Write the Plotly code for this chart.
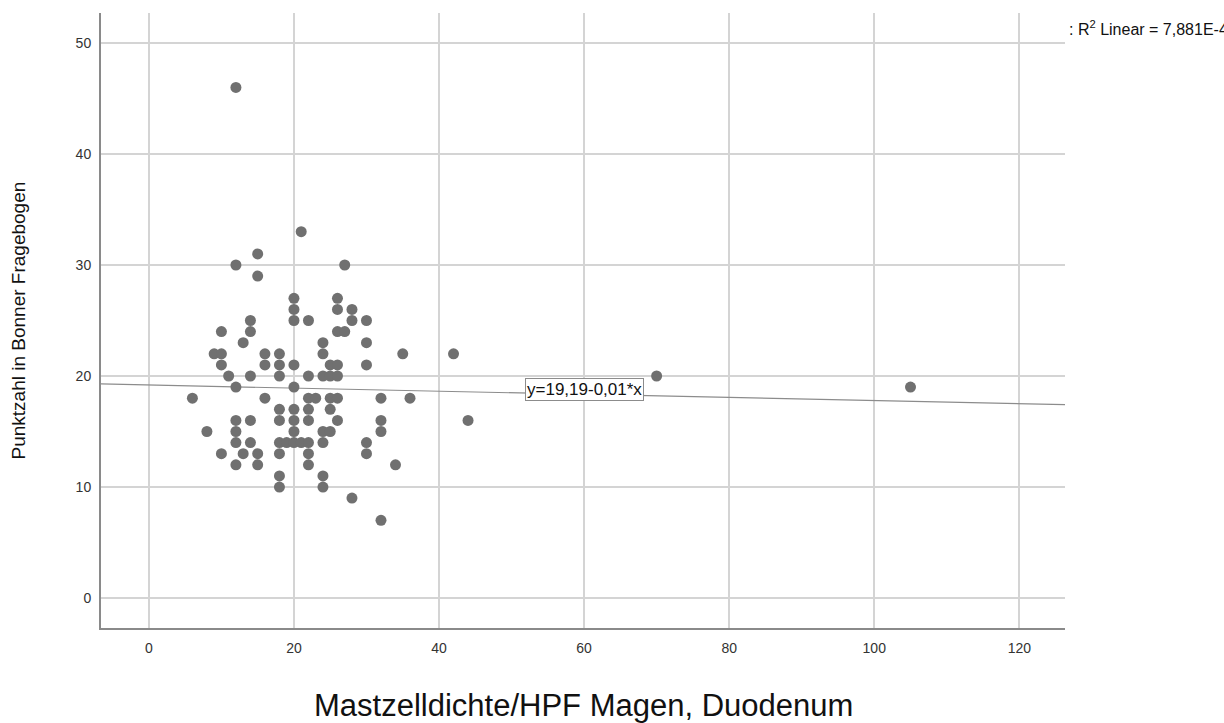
import plotly.graph_objects as go

# Data
mast_x = [12, 21, 15, 12, 27, 15,
          20, 26, 20, 26, 28, 20, 14, 22, 28, 30,
          14, 10, 26, 27, 13, 24, 30,
          9, 10, 16, 18, 24, 35, 42,
          10, 16, 18, 20, 25, 26, 30,
          11, 14, 18, 22, 24, 25, 26, 70,
          12, 20, 105,
          6, 16, 22, 23, 25, 26, 32, 36,
          18, 20, 22, 25,
          12, 14, 18, 20, 22, 26, 32, 44,
          8, 12, 20, 24, 25, 32,
          12, 14, 18, 19, 20, 21, 22, 24, 30,
          10, 13, 15, 18, 22, 30,
          12, 15, 22, 34,
          18, 24,
          18, 24,
          28, 32]
score_y = [46, 33, 31, 30, 30, 29,
           27, 27, 26, 26, 26, 25, 25, 25, 25, 25,
           24, 24, 24, 24, 23, 23, 23,
           22, 22, 22, 22, 22, 22, 22,
           21, 21, 21, 21, 21, 21, 21,
           20, 20, 20, 20, 20, 20, 20, 20,
           19, 19, 19,
           18, 18, 18, 18, 18, 18, 18, 18,
           17, 17, 17, 17,
           16, 16, 16, 16, 16, 16, 16, 16,
           15, 15, 15, 15, 15, 15,
           14, 14, 14, 14, 14, 14, 14, 14, 14,
           13, 13, 13, 13, 13, 13,
           12, 12, 12, 12,
           11, 11,
           10, 10,
           9, 7]

fit_intercept = 19.19
fit_slope = -0.014
fit_label = "y=19,19-0,01*x"
r2_label = ": R<sup>2</sup> Linear = 7,881E-4"
x_title = "Mastzelldichte/HPF Magen, Duodenum"
y_title = "Punktzahl in Bonner Fragebogen"

x_ticks = [0, 20, 40, 60, 80, 100, 120]
y_ticks = [0, 10, 20, 30, 40, 50]
x_range = [-6.6, 126.3]
y_range = [-2.7, 52.7]

FONT = "Arial, Liberation Sans"

fit_x = [x_range[0], x_range[1]]
fit_y = [fit_intercept + fit_slope * v for v in fit_x]

fig = go.Figure()
fig.add_trace(go.Scatter(x=fit_x, y=fit_y, mode="lines",
                         line=dict(color="#8c8c8c", width=1.2),
                         hoverinfo="skip", showlegend=False))
fig.add_trace(go.Scatter(x=mast_x, y=score_y, mode="markers",
                         marker=dict(size=11, color="#707070", line=dict(width=0)),
                         showlegend=False))

label_x = 60
fig.add_annotation(x=label_x, y=fit_intercept + fit_slope * label_x, xref="x", yref="y",
                   yshift=5, text=fit_label, showarrow=False,
                   font=dict(family=FONT, size=17, color="#111"),
                   bgcolor="white", bordercolor="#8c8c8c", borderwidth=1, borderpad=1)
fig.add_annotation(x=1.002, y=0.976, xref="paper", yref="paper", xanchor="left",
                   yanchor="middle", text=r2_label, showarrow=False,
                   font=dict(family=FONT, size=16, color="#111"))
fig.add_annotation(x=0.5, y=0, xref="paper", yref="paper", xanchor="center",
                   yanchor="middle", yshift=-77, text=x_title, showarrow=False,
                   font=dict(family=FONT, size=31, color="#111"))
fig.add_annotation(x=0, y=0.5, xref="paper", yref="paper", xanchor="center",
                   yanchor="middle", xshift=-83, textangle=-90, text=y_title,
                   showarrow=False, font=dict(family=FONT, size=19, color="#111"))

axis_font = dict(family=FONT, size=14, color="#333")
fig.update_xaxes(range=x_range, tickvals=x_ticks, showgrid=True, gridcolor="#d4d4d4",
                 gridwidth=1.5, zeroline=False, showline=True, linecolor="#8a8a8a",
                 linewidth=2, ticks="outside", ticklen=6, tickcolor="rgba(0,0,0,0)",
                 tickfont=axis_font, automargin=False)
fig.update_yaxes(range=y_range, tickvals=y_ticks, showgrid=True, gridcolor="#d4d4d4",
                 gridwidth=1.5, zeroline=False, showline=True, linecolor="#8a8a8a",
                 linewidth=2, ticks="outside", ticklen=5, tickcolor="rgba(0,0,0,0)",
                 tickfont=axis_font, automargin=False)

fig.update_layout(width=1224, height=723, plot_bgcolor="white", paper_bgcolor="white",
                  margin=dict(l=101, r=159, t=13, b=95), showlegend=False)

fig.write_html("out.html")
